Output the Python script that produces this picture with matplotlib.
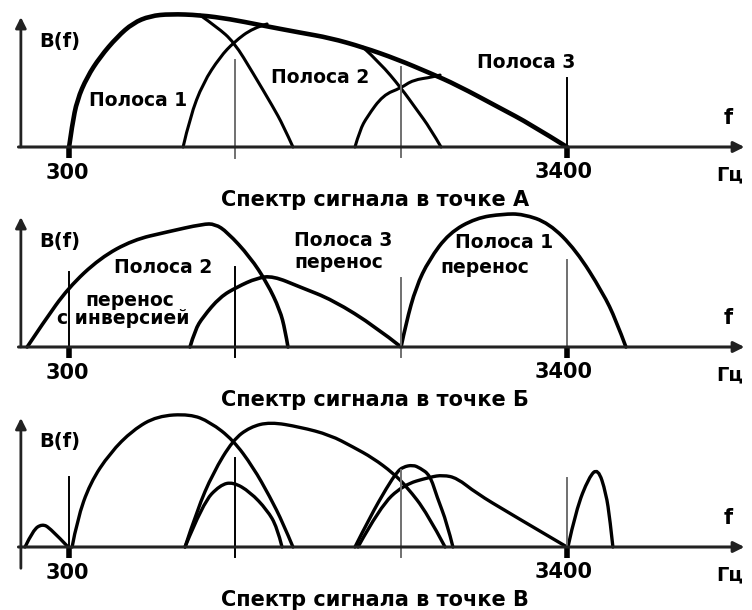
import numpy as np
import matplotlib
matplotlib.use("Agg")
import matplotlib.pyplot as plt
from matplotlib.path import Path
from matplotlib.patches import PathPatch

plt.rcParams['font.family'] = ['DejaVu Sans']

# частота, Гц / относительная амплитуда B(f)
# --- точка А: исходный спектр и полосы фильтров
env_f = [300, 319, 350, 412, 493, 599, 698, 804, 929, 1115, 1302, 1489, 1738, 1925,
         2130, 2342, 2547, 2715, 2983, 3170, 3400]
env_b = [0, 0.165, 0.353, 0.526, 0.677, 0.827, 0.932, 0.985, 1.0, 0.992, 0.962, 0.917,
         0.86, 0.82, 0.75, 0.66, 0.556, 0.466, 0.293, 0.173, 0]
a1_fall_f = [1115, 1221, 1327, 1445, 1570, 1632, 1694]
a1_fall_b = [0.992, 0.902, 0.789, 0.556, 0.301, 0.165, 0]
a2_rise_f = [1010, 1053, 1134, 1240, 1327, 1445, 1533]
a2_rise_b = [0, 0.226, 0.481, 0.677, 0.789, 0.895, 0.925]
a2_fall_f = [2130, 2236, 2367, 2466, 2547, 2616]
a2_fall_b = [0.75, 0.632, 0.444, 0.278, 0.143, 0]
a3_rise_f = [2080, 2111, 2155, 2255, 2367, 2441, 2566, 2610]
a3_rise_b = [0, 0.128, 0.226, 0.391, 0.444, 0.504, 0.526, 0.541]

# --- точка Б: полосы после переноса
b2_f = [39, 138, 294, 493, 698, 910, 1134, 1209, 1284, 1427, 1533, 1613, 1645, 1663]
b2_b = [0, 0.180, 0.444, 0.669, 0.805, 0.865, 0.925, 0.925, 0.865, 0.677, 0.481,
        0.278, 0.128, 0]
b3_f = [1053, 1084, 1134, 1240, 1346, 1470, 1570, 1738, 1943, 2211, 2367]
b3_b = [0, 0.128, 0.226, 0.376, 0.451, 0.519, 0.534, 0.451, 0.353, 0.150, 0]
b1_f = [2367, 2398, 2460, 2541, 2666, 2834, 3002, 3126, 3288, 3456, 3624, 3705, 3767]
b1_b = [0, 0.180, 0.451, 0.654, 0.857, 0.970, 1.0, 1.0, 0.932, 0.729, 0.406, 0.203, 0]

# --- точка В: спектр с продуктами преобразования
c0_f = [26, 76, 132, 182, 294]
c0_b = [0, 0.128, 0.173, 0.143, 0]
c1_f = [319, 350, 431, 555, 698, 848, 1053, 1178, 1321, 1445, 1551, 1632, 1694]
c1_b = [0, 0.203, 0.481, 0.707, 0.880, 0.985, 1.0, 0.940, 0.805, 0.602, 0.376, 0.180, 0]
c2_f = [1022, 1097, 1196, 1321, 1427, 1551, 1738, 1925, 2068, 2192, 2317, 2404, 2529, 2641]
c2_b = [0, 0.278, 0.556, 0.805, 0.902, 0.940, 0.902, 0.842, 0.752, 0.669, 0.556,
        0.451, 0.256, 0]
c2s_f = [1022, 1134, 1240, 1321, 1427, 1533, 1595, 1626]
c2s_b = [0, 0.331, 0.466, 0.489, 0.414, 0.278, 0.150, 0]
c3s_f = [2080, 2174, 2280, 2342, 2379, 2441, 2485, 2547, 2591, 2653, 2690]
c3s_b = [0, 0.226, 0.451, 0.564, 0.602, 0.617, 0.594, 0.541, 0.376, 0.180, 0]
c3_f = [2099, 2236, 2379, 2547, 2628, 2715, 2834, 3039, 3400]
c3_b = [0, 0.301, 0.466, 0.526, 0.541, 0.519, 0.406, 0.256, 0]
c4_f = [3406, 3456, 3537, 3593, 3643, 3668, 3686]
c4_b = [0, 0.278, 0.526, 0.594, 0.406, 0.203, 0]

f_lo, f_hi = 300, 3400
f_edges = [1333, 2367]
titles = ["Спектр сигнала в точке А", "Спектр сигнала в точке Б", "Спектр сигнала в точке В"]

K = 'black'
G = '#707070'

fig = plt.figure(figsize=(7.52, 6.10), dpi=100)
W, H = 752, 610
xlim = (-130, 4552)
px = 133.0  # пикселей на единицу амплитуды

lbl = dict(fontsize=13.5, fontweight='bold', va='center')
num = dict(fontsize=15, fontweight='bold', ha='center', va='center')


def make_ax(top, bottom, base):
    ax = fig.add_axes([0, 1 - bottom / H, 1, (bottom - top) / H])
    ax.set_xlim(*xlim)
    ax.set_ylim((base - bottom) / px, (base - top) / px)
    ax.axis('off')
    return ax


def curve(ax, xs, ys, lw=2.5):
    # гладкая кривая (квадратичные Безье) по опорным точкам
    p = np.column_stack([xs, ys]).astype(float)
    verts, codes = [p[0]], [Path.MOVETO]
    n = len(p)
    for i in range(1, n - 1):
        end = p[i + 1] if i == n - 2 else (p[i] + p[i + 1]) / 2
        verts += [p[i], end]
        codes += [Path.CURVE3, Path.CURVE3]
    if n == 2:
        verts.append(p[1])
        codes.append(Path.LINETO)
    ax.add_patch(PathPatch(Path(verts, codes), fill=False, edgecolor=K, lw=lw,
                           capstyle='round', joinstyle='round'))


def axes_frame(ax, ytop, ybot=0.0):
    ax.annotate('', xy=(4505, 0), xytext=(-15, 0),
                arrowprops=dict(arrowstyle='-|>', lw=2.2, color='#222', mutation_scale=16,
                                shrinkA=0, shrinkB=0))
    ax.annotate('', xy=(0, ytop), xytext=(0, ybot),
                arrowprops=dict(arrowstyle='-|>', lw=2.0, color='#222', mutation_scale=16,
                                shrinkA=0, shrinkB=0))
    ax.text(244, 0.79, 'B(f)', fontsize=14, fontweight='bold', ha='center', va='center')
    ax.text(4402, 0.218, 'f', fontsize=15, fontweight='bold', ha='center', va='center')
    ax.text(4415, -0.21, 'Гц', fontsize=14, fontweight='bold', ha='center', va='center')
    ax.text(288, -0.195, '300', **num)
    ax.text(3381, -0.188, '3400', **num)
    for f in (f_lo, f_hi):
        ax.plot([f, f], [0, -0.083], color=K, lw=4, solid_capstyle='butt')


def title(ax, s):
    ax.text(2205, -0.40, s, fontsize=15, fontweight='bold', ha='center', va='center',
            clip_on=False)


# ---------------- А
ax = make_ax(0, 200, 147)
axes_frame(ax, 0.977)
ax.plot([f_edges[0]] * 2, [-0.083, 0.654], color=G, lw=1.4)
ax.plot([f_edges[1]] * 2, [-0.075, 0.60], color=G, lw=1.4)
ax.plot([f_hi] * 2, [0, 0.52], color=K, lw=1.4)
curve(ax, env_f, env_b, lw=3.3)
for xs, ys in ((a1_fall_f, a1_fall_b), (a2_rise_f, a2_rise_b),
               (a2_fall_f, a2_fall_b), (a3_rise_f, a3_rise_b)):
    curve(ax, xs, ys, lw=2.2)
ax.text(730, 0.353, 'Полоса 1', ha='center', **lbl)
ax.text(1862, 0.526, 'Полоса 2', ha='center', **lbl)
ax.text(3145, 0.639, 'Полоса 3', ha='center', **lbl)
title(ax, titles[0])

# ---------------- Б
ax = make_ax(200, 400, 347)
axes_frame(ax, 0.977)
ax.plot([f_lo] * 2, [0, 0.564], color=K, lw=1.4)
ax.plot([f_edges[0]] * 2, [-0.075, 0.60], color=K, lw=1.4)
ax.plot([f_edges[1]] * 2, [-0.075, 0.52], color=G, lw=1.4)
ax.plot([f_hi] * 2, [0, 0.654], color=G, lw=1.4)
for xs, ys in ((b2_f, b2_b), (b3_f, b3_b), (b1_f, b1_b)):
    curve(ax, xs, ys, lw=2.6)
ax.text(885, 0.60, 'Полоса 2', ha='center', **lbl)
ax.text(680, 0.353, 'перенос', ha='center', **lbl)
ax.text(640, 0.218, 'с инверсией', ha='center', **lbl)
ax.text(1700, 0.797, 'Полоса 3', ha='left', **lbl)
ax.text(1700, 0.639, 'перенос', ha='left', **lbl)
ax.text(2700, 0.782, 'Полоса 1', ha='left', **lbl)
ax.text(2610, 0.60, 'перенос', ha='left', **lbl)
title(ax, titles[1])

# ---------------- В
ax = make_ax(400, 610, 547)
axes_frame(ax, 0.97, -0.16)
ax.plot([f_lo] * 2, [0, 0.526], color=K, lw=1.4)
ax.plot([f_edges[0]] * 2, [-0.075, 0.669], color=K, lw=1.4)
ax.plot([f_edges[1]] * 2, [-0.075, 0.58], color=G, lw=1.4)
ax.plot([f_hi] * 2, [0, 0.519], color=G, lw=1.4)
for xs, ys in ((c0_f, c0_b), (c1_f, c1_b), (c2_f, c2_b), (c2s_f, c2s_b),
               (c3s_f, c3s_b), (c3_f, c3_b), (c4_f, c4_b)):
    curve(ax, xs, ys, lw=2.4)
title(ax, titles[2])

fig.savefig('out.png', dpi=100)
